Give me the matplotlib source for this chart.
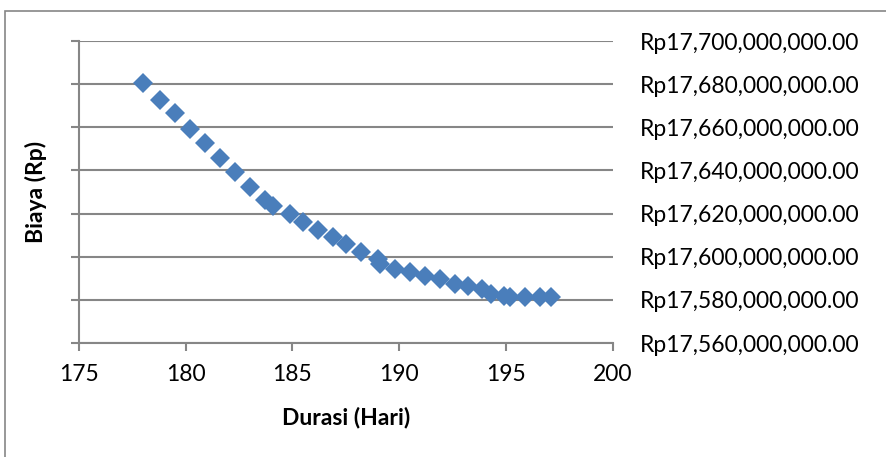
import matplotlib
matplotlib.use('Agg')
import matplotlib.pyplot as plt
from matplotlib.patches import Rectangle
from matplotlib.ticker import FuncFormatter

# data
durasi = [178.0, 178.8, 179.5, 180.2, 180.9, 181.6, 182.3, 183.0, 183.7, 184.1,
          184.9, 185.5, 186.2, 186.9, 187.5, 188.2, 189.0, 189.1, 189.8, 190.5,
          191.2, 191.9, 192.6, 193.2, 193.9, 194.3, 194.9, 195.2, 195.9, 196.6,
          197.1]
biaya_juta = [17680.3, 17672.6, 17666.4, 17659.4, 17652.7, 17645.9, 17639.2,
              17632.2, 17626.4, 17623.7, 17619.9, 17616.0, 17612.4, 17609.0,
              17605.9, 17602.0, 17598.9, 17596.6, 17594.3, 17592.7, 17591.2,
              17589.6, 17587.3, 17586.5, 17585.0, 17582.7, 17581.6, 17581.4,
              17581.4, 17581.2, 17581.2]
biaya = [v * 1e6 for v in biaya_juta]

x_ticks = [175, 180, 185, 190, 195, 200]
y_ticks = [17.56e9, 17.58e9, 17.60e9, 17.62e9, 17.64e9, 17.66e9, 17.68e9, 17.70e9]

plt.rcParams['font.family'] = ['Lato', 'DejaVu Sans']
grey = '#868686'

fig = plt.figure(figsize=(8.86, 4.57), dpi=100)
# outer chart border
fig.patches.append(Rectangle((5 / 886, -0.1), 1.2, 1 - 11 / 457 + 0.1,
                             transform=fig.transFigure, fill=False,
                             edgecolor=grey, linewidth=1.2))

ax = fig.add_axes([79 / 886, 1 - 343 / 457, (612.7 - 79) / 886, (343 - 41) / 457])
ax.plot(durasi, biaya, linestyle='none', marker='D', markersize=10,
        color='#4a7ebb', markeredgewidth=0, zorder=3)

ax.set_xlim(175, 200)
ax.set_ylim(17.56e9, 17.70e9)
ax.set_xticks(x_ticks)
ax.set_yticks(y_ticks)
ax.yaxis.set_major_formatter(FuncFormatter(lambda v, p: 'Rp{:,.2f}'.format(v)))

ax.grid(axis='y', color=grey, linewidth=1.5)
ax.set_axisbelow(True)
for s in ['top', 'right']:
    ax.spines[s].set_visible(False)
for s in ['left', 'bottom']:
    ax.spines[s].set_color(grey)
    ax.spines[s].set_linewidth(1.5)

ax.tick_params(axis='x', direction='out', length=6, width=1.5, color=grey,
               labelsize=16.5, pad=9)
ax.tick_params(axis='y', which='both', left=True, right=False, length=6,
               width=1.5, color=grey, labelleft=False, labelright=True,
               labelsize=16.5, pad=13.5)

ax.set_xlabel('Durasi (Hari)', fontsize=16.5, fontweight='bold', labelpad=16)
ax.set_ylabel('Biaya (Rp)', fontsize=16.5, fontweight='bold', labelpad=17)

fig.savefig('out.png', dpi=100)
